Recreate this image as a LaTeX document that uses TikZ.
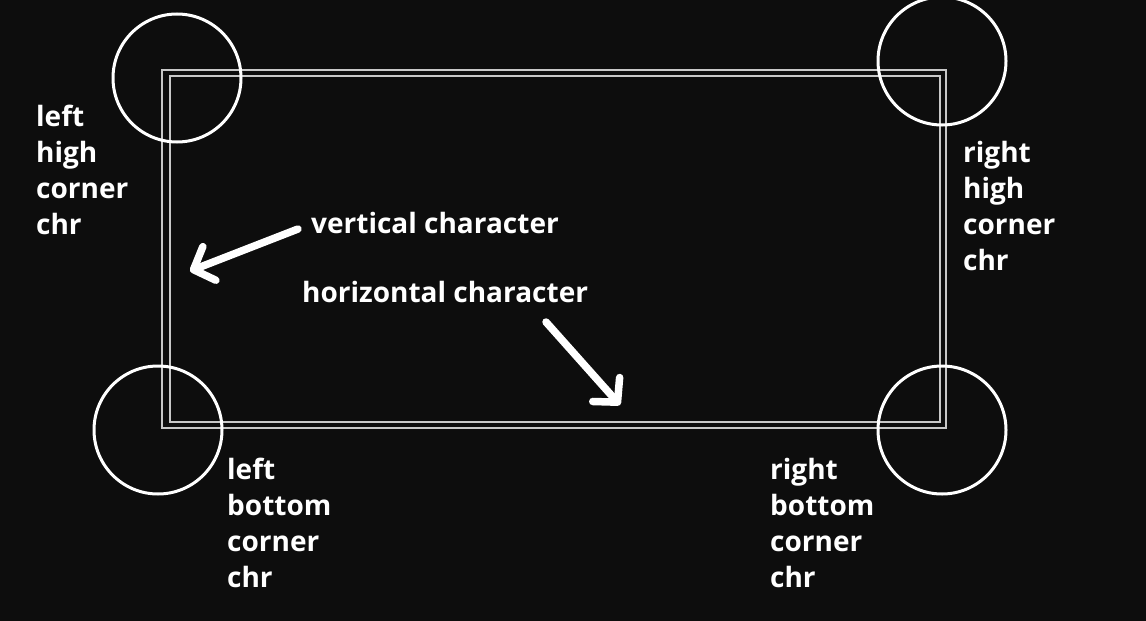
\documentclass[tikz,border=0pt]{standalone}
\usepackage{fontspec}
\setmainfont{Open Sans}
\usetikzlibrary{arrows.meta}
\definecolor{bgdark}{HTML}{0D0D0D}
\definecolor{framegray}{HTML}{C8C8C8}

\begin{document}
\begin{tikzpicture}[x=1pt, y=-1pt,
  label/.style={text=white, font=\fontsize{28}{36}\selectfont\bfseries, align=left, inner sep=0pt, anchor=base west},
  ring/.style={draw=white, line width=3pt},
  frameline/.style={draw=framegray, line width=2.2pt},
  pointer/.style={draw=white, line width=7.5pt, line cap=round, -{Straight Barb[length=17pt, width=36pt, line width=7.5pt, round]}}]
\fill[bgdark] (0,0) rectangle (1146,621);
\useasboundingbox (0,0) rectangle (1146,621);
% double frame
\draw[frameline] (162,70) rectangle (946,428);
\draw[frameline] (170,76) rectangle (940,422);
% corner rings
\draw[ring] (177,78) circle (64);
\draw[ring] (942,61) circle (64);
\draw[ring] (158,430) circle (64);
\draw[ring] (942,430) circle (64);
% labels (anchored on the baseline of the last line)
\node[label] (lefthigh) at (36,234) {left\\high\\corner\\chr};
\node[label] (righthigh) at (963,270) {right\\high\\corner\\chr};
\node[label] (leftbottom) at (227,587) {left\\bottom\\corner\\chr};
\node[label] (rightbottom) at (770,587) {right\\bottom\\corner\\chr};
\node[label] (vertical) at (311,233) {vertical character};
\node[label] (horizontal) at (302,302) {horizontal character};
% arrows
\coordinate (vtip) at (190,271);
\coordinate (htip) at (620,405);
\coordinate (vtail) at (298,229);
\coordinate (htail) at (546,322);
\draw[pointer] (vtail) -- (vtip);
\draw[pointer] (htail) -- (htip);
\end{tikzpicture}
\end{document}
